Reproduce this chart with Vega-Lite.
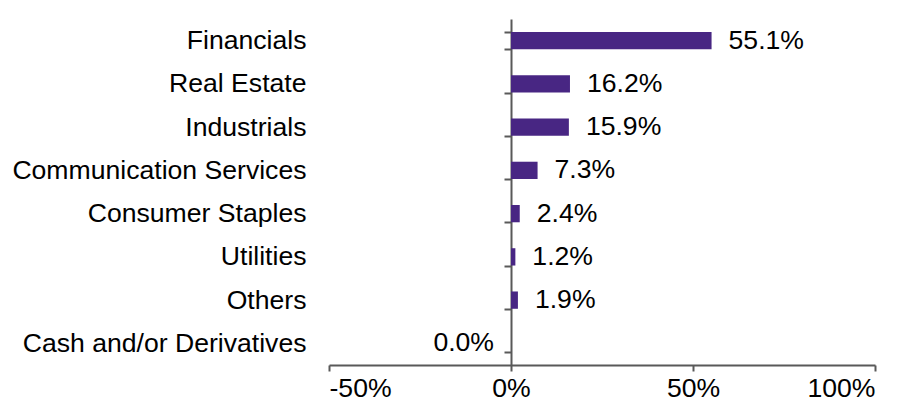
{
  "$schema": "https://vega.github.io/schema/vega-lite/v6.json",
  "width": 546,
  "height": 346,
  "autosize": {"type": "none"},
  "padding": {"left": 329, "top": 19, "right": 36, "bottom": 43},
  "background": "white",
  "config": {
    "view": {"stroke": null},
    "font": "Liberation Sans",
    "axis": {"grid": false, "labelFont": "Liberation Sans", "labelColor": "#000000", "labelFontSize": 26.6, "domainColor": "#595959", "tickColor": "#595959", "domainWidth": 2, "tickWidth": 2, "labelLimit": 0}
  },
  "data": {
    "values": [
      {"sector": "Financials", "value": 0.551},
      {"sector": "Real Estate", "value": 0.162},
      {"sector": "Industrials", "value": 0.159},
      {"sector": "Communication Services", "value": 0.073},
      {"sector": "Consumer Staples", "value": 0.024},
      {"sector": "Utilities", "value": 0.012},
      {"sector": "Others", "value": 0.019},
      {"sector": "Cash and/or Derivatives", "value": 0.0}
    ]
  },
  "encoding": {
    "y": {
      "field": "sector",
      "type": "nominal",
      "sort": null,
      "scale": {"paddingInner": 0.6, "paddingOuter": 0.3},
      "axis": {"title": null, "orient": "left", "offset": -182, "tickBand": "extent", "tickSize": 7, "labelPadding": 198, "labelAlign": "right", "labelLimit": 0}
    },
    "x": {
      "field": "value",
      "type": "quantitative",
      "scale": {"domain": [-0.5, 1], "nice": false, "zero": false},
      "axis": {"title": null, "values": [-0.5, 0, 0.5, 1], "format": ".0%", "labelExpr": "replace(datum.label, '\u2212', '-')", "tickSize": 6, "labelPadding": 4}
    }
  },
  "layer": [
    {"mark": {"type": "bar", "color": "#482683"}},
    {
      "transform": [{"filter": "datum.value > 0"}],
      "mark": {"type": "text", "align": "left", "baseline": "middle", "dx": 17, "fontSize": 26.6, "color": "#000000"},
      "encoding": {"text": {"field": "value", "type": "quantitative", "format": ".1%"}}
    },
    {
      "transform": [{"filter": "datum.value <= 0"}],
      "mark": {"type": "text", "align": "right", "baseline": "middle", "dx": -17, "fontSize": 26.6, "color": "#000000"},
      "encoding": {"text": {"field": "value", "type": "quantitative", "format": ".1%"}}
    }
  ]
}
